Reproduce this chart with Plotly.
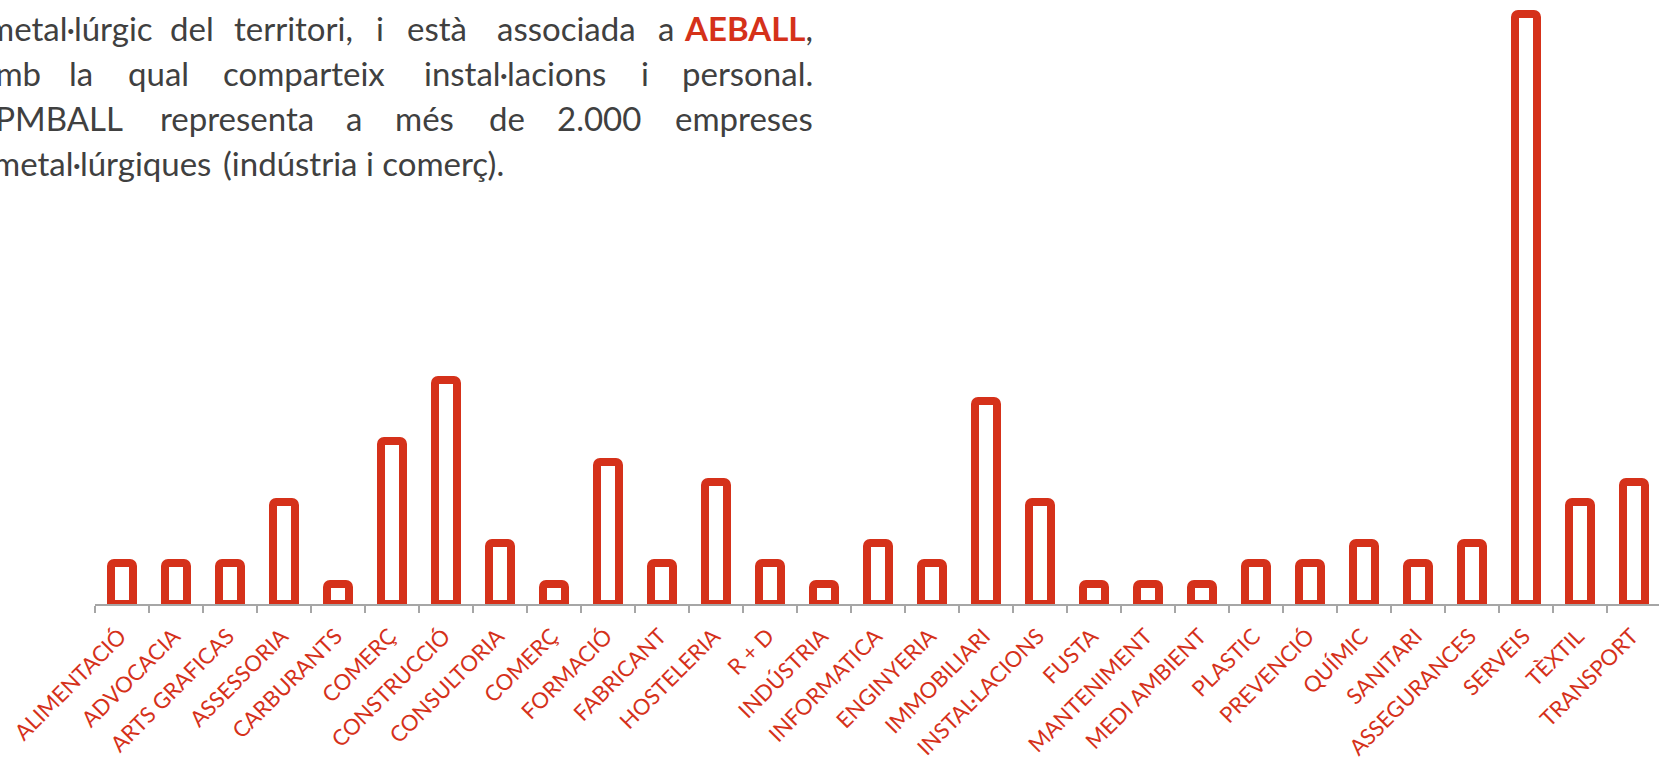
import plotly.graph_objects as go

categories = ["ALIMENTACIÓ", "ADVOCACIA", "ARTS GRAFICAS", "ASSESSORIA", "CARBURANTS",
              "COMERÇ", "CONSTRUCCIÓ", "CONSULTORIA", "COMERÇ", "FORMACIÓ",
              "FABRICANT", "HOSTELERIA", "R + D", "INDÚSTRIA", "INFORMATICA",
              "ENGINYERIA", "IMMOBILIARI", "INSTAL·LACIONS", "FUSTA", "MANTENIMENT",
              "MEDI AMBIENT", "PLASTIC", "PREVENCIÓ", "QUÍMIC", "SANITARI",
              "ASSEGURANCES", "SERVEIS", "TÈXTIL", "TRANSPORT"]
values = [2, 2, 2, 5, 1, 8, 11, 3, 1, 7, 2, 6, 2, 1, 3, 2, 10, 5, 1, 1, 1, 2, 2, 3, 2, 3, 29, 5, 6]

RED = "#D5311A"
GRAY_TXT = "#404040"
AXIS_GRAY = "#A6A6A6"

W, H = 1659, 762
ML, MR, MT, MB = 95, 0, 0, 158
PW, PH = W - ML - MR, H - MT - MB
CAT_PX = 54.0
UNIT_PX = 20.35
LABEL_SHIFT = -0.04  # rotated labels sit slightly left of the category centre

x = list(range(len(categories)))

fig = go.Figure()
fig.add_trace(go.Bar(
    x=x, y=values, width=0.39,
    marker=dict(color="white", line=dict(color=RED, width=8), cornerradius=3),
    cliponaxis=True, hoverinfo="skip",
))

fig.update_layout(
    template="none",
    width=W, height=H,
    margin=dict(l=ML, r=MR, t=MT, b=MB, pad=0, autoexpand=False),
    plot_bgcolor="white", paper_bgcolor="white",
    showlegend=False, bargap=0,
    font=dict(family="Lato", color=GRAY_TXT),
)
fig.update_xaxes(
    automargin=False,
    range=[-0.5, -0.5 + PW / CAT_PX],
    tickmode="array", tickvals=[i + LABEL_SHIFT for i in x], ticktext=categories,
    tickangle=-45, ticks="", ticklabelstandoff=9, ticklabeloverflow="allow",
    tickfont=dict(family="Lato", size=22, color=RED),
    showline=True, linecolor=AXIS_GRAY, linewidth=1.5,
    showgrid=False, zeroline=False,
    minor=dict(tickmode="array", tickvals=[i - 0.5 for i in range(len(categories) + 1)],
               ticks="outside", ticklen=7, tickwidth=1.5, tickcolor=AXIS_GRAY, showgrid=False),
)
fig.update_yaxes(automargin=False, range=[0, PH / UNIT_PX], visible=False)


def px2x(px):
    return (px - ML) / PW


def px2y(py):
    return 1 - (py - MT) / PH


FS = 33
# (text, x-pixel, anchor, baseline-pixel)
words = [
    ("metal·lúrgic", 155, "right", 39), ("del", 191.5, "center", 39),
    ("territori,", 293, "center", 39), ("i", 380, "center", 39),
    ("està", 436.5, "center", 39), ("associada", 566.5, "center", 39),
    ("a", 665.5, "center", 39),
    ("<b><span style='color:%s'>AEBALL</span></b>," % RED, 815, "right", 39),
    ("amb", 43, "right", 84), ("la", 81, "center", 84), ("qual", 158.5, "center", 84),
    ("comparteix", 304, "center", 84), ("instal·lacions", 515, "center", 84),
    ("i", 645, "center", 84), ("personal.", 815, "right", 84),
    ("UPMBALL", 125, "right", 129), ("representa", 237, "center", 129),
    ("a", 353.5, "center", 129), ("més", 424.5, "center", 129),
    ("de", 507.5, "center", 129), ("2.000", 598.5, "center", 129),
    ("empreses", 815, "right", 129),
    ("metal·lúrgiques", 213, "right", 174), ("(indústria i comerç).", 221, "left", 174),
]
for t, xp, anc, base in words:
    fig.add_annotation(
        text=t, x=px2x(xp), y=px2y(base - 0.33 * FS), xref="paper", yref="paper",
        xanchor=anc, yanchor="middle", showarrow=False,
        font=dict(family="Lato", size=FS, color=GRAY_TXT),
    )

fig.write_html(
    "out.html",
    config={"displayModeBar": False},
    post_script="document.body.style.margin='0';document.body.style.padding='0';"
                "document.body.style.overflow='hidden';",
)
